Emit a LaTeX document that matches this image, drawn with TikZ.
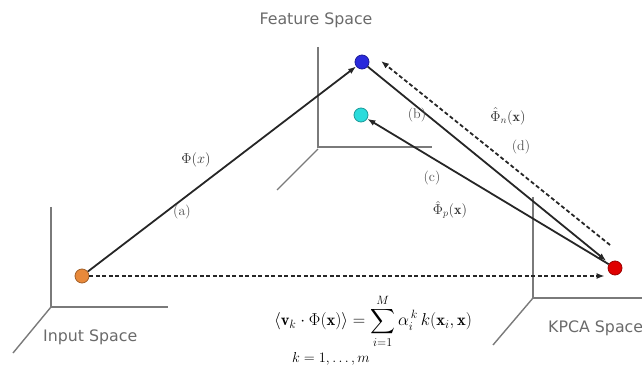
\documentclass[tikz,border=0pt]{standalone}
\usepackage{fontspec}
\usepackage{amsmath}
\usetikzlibrary{arrows.meta}
\newfontfamily\spacefont{DejaVu Sans}
\definecolor{axisgray}{HTML}{7A7A7A}
\definecolor{labgray}{HTML}{6A6A6A}
\definecolor{dotorange}{HTML}{E8893A}
\definecolor{dotblue}{HTML}{2A2ADC}
\definecolor{dotcyan}{HTML}{2ADCDC}
\definecolor{dotred}{HTML}{E00000}
\tikzset{
  dot/.style={circle, minimum size=14pt, inner sep=0pt, draw=#1!70!black, line width=0.8pt, fill=#1},
  axisline/.style={draw=axisgray, line width=1.4pt},
  arr/.style={draw=black!85, line width=1.8pt, -{Latex[length=8pt,width=6pt]}},
  darr/.style={arr, dash pattern=on 4pt off 2.5pt},
  spacelabel/.style={font=\spacefont\fontsize{15.8}{18}\selectfont, text=labgray, inner sep=0pt},
  steplabel/.style={font=\fontsize{14}{16}\selectfont, text=black!70, inner sep=0pt},
  philabel/.style={font=\fontsize{14}{16}\selectfont, text=black!80, inner sep=0pt},
}
\begin{document}
\begin{tikzpicture}[x=1pt, y=-1pt]
\useasboundingbox (0,0) rectangle (642,371);
% axes: input space
\draw[axisline] (51,207) -- (51,307) -- (168,307);
\draw[axisline] (51,307) -- (13,353);
% axes: feature space
\draw[axisline] (318,47) -- (318,147) -- (432,147);
\draw[axisline] (318,149) -- (277,190);
% axes: KPCA space
\draw[axisline] (533,197) -- (533,298) -- (642,298);
\draw[axisline] (533,298) -- (493,345);
% space labels
\node[spacelabel] (lfeat) at (316,20) {Feature Space};
\node[spacelabel, anchor=west] (linput) at (43,337) {Input Space};
\node[spacelabel, anchor=west] (lkpca) at (548,328) {KPCA Space};
% dots
\node[dot=dotorange] (orange) at (82,276) {};
\node[dot=dotblue] (blue) at (362,62) {};
\node[dot=dotcyan] (cyan) at (361,115) {};
\node[dot=dotred] (red) at (615,268) {};
% helper coordinates
\coordinate (dtail) at (610,245);
\coordinate (dtip) at (381,61);
% connectors
\draw[arr] (orange) -- (blue);
\draw[darr] (orange.east) -- ([xshift=-3pt]orange -| red.west);
\draw[arr, shorten >=4pt] (blue) -- (red);
\draw[darr] (dtail) -- (dtip);
\draw[arr] (red) -- (cyan);
% labels
\node[philabel] (phix) at (196,160) {$\Phi(x)$};
\node[steplabel] (la) at (182,212) {(a)};
\node[steplabel] (lb) at (417,115) {(b)};
\node[philabel] (phin) at (508,116) {$\hat{\Phi}_n(\mathbf{x})$};
\node[steplabel] (ld) at (521,147) {(d)};
\node[steplabel] (lc) at (432,178) {(c)};
\node[philabel] (phip) at (450,210) {$\hat{\Phi}_p(\mathbf{x})$};
% formula
\node[font=\fontsize{16.5}{19}\selectfont, inner sep=0pt] (formula) at (373,321)
  {$\left\langle \mathbf{v}_k \cdot \Phi(\mathbf{x})\right\rangle = \displaystyle\sum_{i=1}^{M} \alpha_i^{\,k}\, k(\mathbf{x}_i, \mathbf{x})$};
\node[font=\fontsize{14}{16}\selectfont, inner sep=0pt] (krange) at (331,359) {$k=1,\ldots,m$};
\end{tikzpicture}
\end{document}
